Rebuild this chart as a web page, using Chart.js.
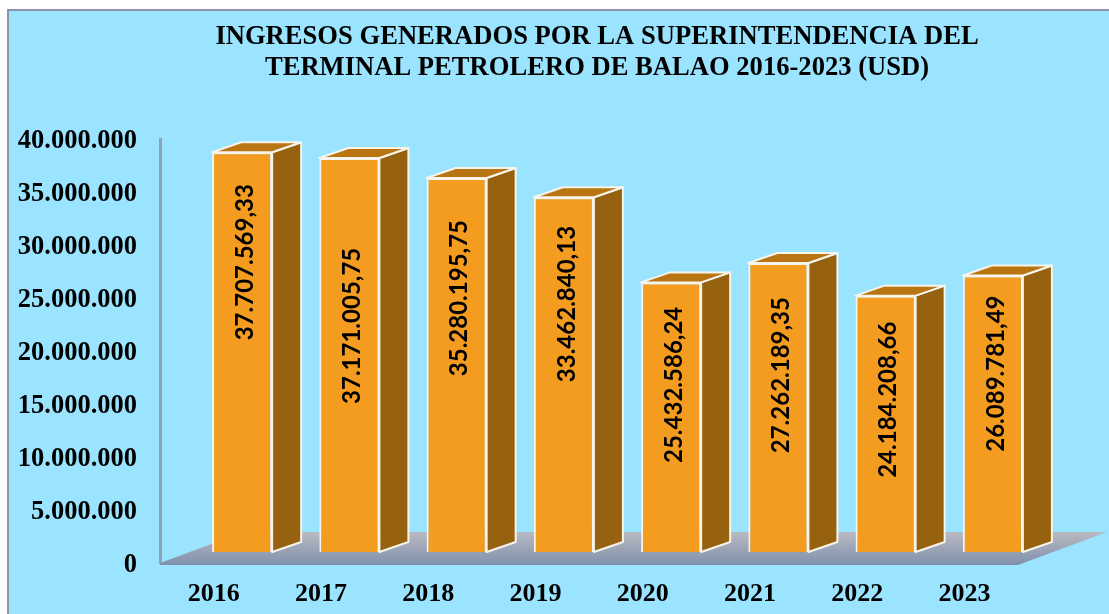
<!DOCTYPE html>
<html>
<head>
<meta charset="utf-8">
<title>Ingresos Balao</title>
<script src="https://cdn.jsdelivr.net/npm/chart.js@4"></script>
<style>
  html, body { margin: 0; padding: 0; background: #fff; overflow: hidden; }
  #frame {
    position: absolute; left: 7px; top: 9px; width: 1102px; height: 605px;
    box-sizing: border-box; background: #9ae4ff;
    border-left: 2px solid #8a94ad; border-top: 2px solid #8a94ad;
  }
  #chart { position: absolute; left: 0; top: 0; }
</style>
</head>
<body>
<div id="frame"></div>
<canvas id="chart" width="1109" height="614"></canvas>
<script>
const titleLines = [
  "INGRESOS GENERADOS POR LA SUPERINTENDENCIA DEL",
  "TERMINAL PETROLERO DE BALAO 2016-2023 (USD)",
];
const years = ["2016", "2017", "2018", "2019", "2020", "2021", "2022", "2023"];
const ingresos = [
  37707569.33, 37171005.75, 35280195.75, 33462840.13,
  25432586.24, 27262189.35, 24184208.66, 26089781.49,
];
const yTickLabels = [
  "0", "5.000.000", "10.000.000", "15.000.000", "20.000.000",
  "25.000.000", "30.000.000", "35.000.000", "40.000.000",
];
// how far up each bar its rotated label sits (0 = bottom, 1 = top)
const labelHeights = [0.725, 0.574, 0.679, 0.699, 0.62, 0.612, 0.594, 0.645];

// depth of the fake 3D box
const depthX = 29;
const depthY = 10;
// front of the bars stands in front of the axis plane
const shiftX = 29;
const shiftY = 11;

const serif = "'Liberation Serif', serif";

function formatValue(v) {
  return v.toLocaleString("de-DE", { minimumFractionDigits: 2, maximumFractionDigits: 2 });
}

function poly(ctx, pts, fill) {
  ctx.beginPath();
  ctx.moveTo(pts[0][0], pts[0][1]);
  for (let i = 1; i < pts.length; i++) ctx.lineTo(pts[i][0], pts[i][1]);
  ctx.closePath();
  ctx.fillStyle = fill;
  ctx.fill();
  ctx.strokeStyle = "#f7f4ec";
  ctx.lineWidth = 2;
  ctx.stroke();
}

const floorPlugin = {
  id: "floor",
  beforeDatasetsDraw(chart) {
    const ctx = chart.ctx;
    const a = chart.chartArea;
    const grad = ctx.createLinearGradient(0, a.bottom - 31, 0, a.bottom + 2);
    grad.addColorStop(0, "#b9bac2");
    grad.addColorStop(1, "#8090ac");
    ctx.beginPath();
    ctx.moveTo(a.left, a.bottom);
    ctx.lineTo(a.left + 84, a.bottom - 31);
    ctx.lineTo(a.right + 89, a.bottom - 31);
    ctx.lineTo(a.right, a.bottom + 2);
    ctx.lineTo(a.left, a.bottom + 2);
    ctx.closePath();
    ctx.fillStyle = grad;
    ctx.fill();
  },
};

const boxPlugin = {
  id: "box",
  // the library's bars are the front faces, moved forward off the axis plane
  beforeDatasetDraw(chart) {
    chart.ctx.save();
    chart.ctx.translate(shiftX - 0.5, -shiftY);
  },
  afterDatasetDraw(chart) {
    const ctx = chart.ctx;
    chart.getDatasetMeta(0).data.forEach((bar, i) => {
      const l = bar.x - bar.width / 2;
      const r = bar.x + bar.width / 2;
      const t = bar.y;
      const b = bar.base;
      ctx.lineJoin = "round";
      poly(ctx, [[r, t], [r + depthX, t - depthY], [r + depthX, b - depthY], [r, b]], "#976210");
      poly(ctx, [[l, t], [l + depthX, t - depthY], [r + depthX, t - depthY], [r, t]], "#b87512");

      ctx.save();
      ctx.translate(bar.x + 3, b - (b - t) * labelHeights[i]);
      ctx.rotate(-Math.PI / 2);
      ctx.font = "bold 24px Lato, sans-serif";
      ctx.fillStyle = "#000";
      ctx.textAlign = "center";
      ctx.textBaseline = "middle";
      ctx.fillText(formatValue(ingresos[i]), 0, 0);
      ctx.restore();
    });
    ctx.restore();
  },
  afterDraw(chart) {
    const ctx = chart.ctx;
    ctx.save();
    ctx.font = "bold 26.6px " + serif;
    ctx.fillStyle = "#000";
    ctx.textAlign = "center";
    ctx.textBaseline = "middle";
    titleLines.forEach((line, i) => ctx.fillText(line, 597, 37 + i * 31));
    ctx.restore();
  },
};

new Chart(document.getElementById("chart").getContext("2d"), {
  type: "bar",
  data: {
    labels: years,
    datasets: [
      {
        data: ingresos,
        backgroundColor: "#f39c1f",
        borderColor: "#f7f4ec",
        borderWidth: 2,
        categoryPercentage: 1,
        barPercentage: 0.56,
      },
    ],
  },
  options: {
    responsive: false,
    animation: false,
    layout: { padding: { top: 139, right: 91 } },
    scales: {
      x: {
        grid: { display: false, drawTicks: false },
        border: { display: false },
        ticks: { color: "#000", font: { family: serif, weight: "bold", size: 26 }, padding: 16, maxRotation: 0 },
        afterFit: (scale) => { scale.height = 51; },
      },
      y: {
        min: 0,
        max: 40000000,
        grid: { display: false, drawTicks: false },
        border: { color: "#8fa3b8", width: 3 },
        ticks: {
          stepSize: 5000000,
          color: "#000",
          font: { family: serif, weight: "bold", size: 26.5 },
          padding: 23,
          labelOffset: 2,
          callback: (v) => yTickLabels[v / 5000000],
        },
        afterFit: (scale) => { scale.width = 160; },
      },
    },
    plugins: {
      legend: { display: false },
      title: { display: false },
      tooltip: { enabled: false },
    },
  },
  plugins: [floorPlugin, boxPlugin],
});
</script>
</body>
</html>
